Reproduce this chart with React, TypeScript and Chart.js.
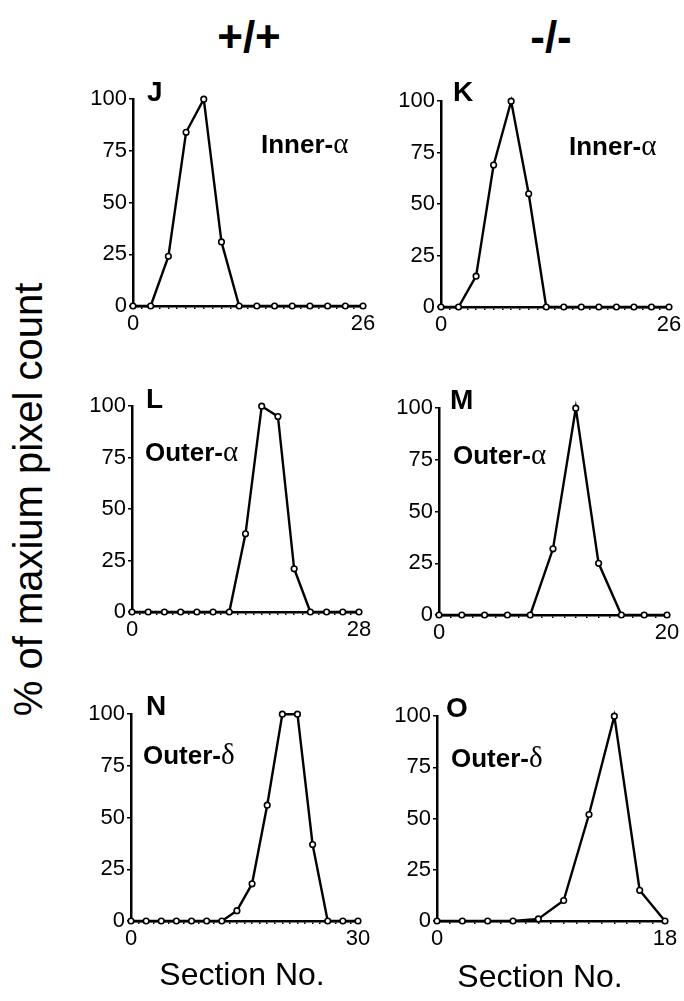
import React, { useEffect, useRef } from "react";
import { Chart, registerables } from "chart.js";

Chart.register(...registerables);

// ---------- data ----------
const sectionsJ = [0, 2, 4, 6, 8, 10, 12, 14, 16, 18, 20, 22, 24, 26];
const valuesJ = [0, 0, 24, 84, 100, 31, 0, 0, 0, 0, 0, 0, 0, 0];

const sectionsK = [0, 2, 4, 6, 8, 10, 12, 14, 16, 18, 20, 22, 24, 26];
const valuesK = [0, 0, 15, 69, 100, 55, 0, 0, 0, 0, 0, 0, 0, 0];

const sectionsL = [0, 2, 4, 6, 8, 10, 12, 14, 16, 18, 20, 22, 24, 26, 28];
const valuesL = [0, 0, 0, 0, 0, 0, 0, 38, 100, 95, 21, 0, 0, 0, 0];

const sectionsM = [0, 2, 4, 6, 8, 10, 12, 14, 16, 18, 20];
const valuesM = [0, 0, 0, 0, 0, 32, 100, 25, 0, 0, 0];

const sectionsN = [0, 2, 4, 6, 8, 10, 12, 14, 16, 18, 20, 22, 24, 26, 28, 30];
const valuesN = [0, 0, 0, 0, 0, 0, 0, 5, 18, 56, 100, 100, 37, 0, 0, 0];

const sectionsO = [0, 2, 4, 6, 8, 10, 12, 14, 16, 18];
const valuesO = [0, 0, 0, 0, 1, 10, 52, 100, 15, 0];

const xMaxima = { J: 26, K: 26, L: 28, M: 20, N: 30, O: 18 };
const yTicks = [0, 25, 50, 75, 100];
const columnTitles = ["+/+", "-/-"];
const yAxisTitle = "% of maxium pixel count";
const xAxisTitle = "Section No.";

// ---------- layout (styles only) ----------
const SANS = '"Liberation Sans", Arial, Helvetica, sans-serif';
const SERIF = '"Liberation Serif", "DejaVu Serif", serif';

type PanelSpec = {
  letter: string;
  name: string;
  greek: string;
  sections: number[];
  values: number[];
  xMax: number;
  x0: number;
  x1: number;
  yTop: number;
  yBot: number;
  letterPos: [number, number];
  namePos: [number, number];
};

const panels: PanelSpec[] = [
  { letter: "J", name: "Inner-", greek: "α", sections: sectionsJ, values: valuesJ, xMax: xMaxima.J,
    x0: 133, x1: 363, yTop: 98, yBot: 306, letterPos: [147, 78], namePos: [261, 129] },
  { letter: "K", name: "Inner-", greek: "α", sections: sectionsK, values: valuesK, xMax: xMaxima.K,
    x0: 441, x1: 669, yTop: 100, yBot: 307, letterPos: [453, 78], namePos: [569, 131] },
  { letter: "L", name: "Outer-", greek: "α", sections: sectionsL, values: valuesL, xMax: xMaxima.L,
    x0: 132, x1: 359, yTop: 405, yBot: 612, letterPos: [146, 385], namePos: [145, 437] },
  { letter: "M", name: "Outer-", greek: "α", sections: sectionsM, values: valuesM, xMax: xMaxima.M,
    x0: 439, x1: 667, yTop: 407, yBot: 615, letterPos: [450, 386], namePos: [453, 440] },
  { letter: "N", name: "Outer-", greek: "δ", sections: sectionsN, values: valuesN, xMax: xMaxima.N,
    x0: 131, x1: 358, yTop: 713, yBot: 921, letterPos: [146, 692], namePos: [143, 740] },
  { letter: "O", name: "Outer-", greek: "δ", sections: sectionsO, values: valuesO, xMax: xMaxima.O,
    x0: 437, x1: 665, yTop: 715, yBot: 921, letterPos: [446, 694], namePos: [451, 743] },
];

const PAD_L = 52;
const PAD_T = 14;
const PAD_R = 26;
const PAD_B = 36;

function PanelChart({ p }: { p: PanelSpec }) {
  const ref = useRef<HTMLCanvasElement>(null);
  const w = p.x1 - p.x0 + PAD_L + PAD_R;
  const h = p.yBot - p.yTop + PAD_T + PAD_B;

  useEffect(() => {
    if (!ref.current) return;
    const tickFont = { family: SANS, size: 22 };
    const chart = new Chart(ref.current, {
      type: "line",
      data: {
        datasets: [
          {
            data: p.sections.map((x, i) => ({ x, y: p.values[i] })),
            borderColor: "#000",
            borderWidth: 2.4,
            pointRadius: 2.8,
            pointBorderWidth: 1.6,
            pointBackgroundColor: "#fff",
            pointBorderColor: "#000",
            tension: 0,
            clip: false,
          } as any,
        ],
      },
      options: {
        responsive: false,
        maintainAspectRatio: false,
        animation: false,
        devicePixelRatio: 1,
        layout: { padding: { left: 0, top: PAD_T, right: PAD_R, bottom: 0 }, autoPadding: false } as any,
        plugins: { legend: { display: false }, tooltip: { enabled: false } },
        scales: {
          x: {
            type: "linear",
            min: 0,
            max: p.xMax,
            afterFit: (s: any) => { s.height = PAD_B; },
            ticks: {
              stepSize: 1,
              autoSkip: false,
              maxRotation: 0,
              padding: 2,
              color: "#000",
              font: tickFont,
              callback: (v: any) => (v === 0 || v === p.xMax ? String(v) : ""),
            },
            grid: { drawOnChartArea: false, tickLength: 3, color: "#000", lineWidth: 1.5 },
            border: { color: "#000", width: 2.5 },
          },
          y: {
            type: "linear",
            min: 0,
            max: 100,
            afterFit: (s: any) => { s.width = PAD_L; },
            afterBuildTicks: (s: any) => { s.ticks = yTicks.map((v) => ({ value: v })); },
            ticks: { padding: 2, color: "#000", font: tickFont },
            grid: { drawOnChartArea: false, tickLength: 4, color: "#000", lineWidth: 1.5 },
            border: { color: "#000", width: 2.5 },
          },
        },
      },
    });
    return () => chart.destroy();
  }, []);

  return (
    <canvas
      ref={ref}
      width={w}
      height={h}
      style={{ position: "absolute", left: p.x0 - PAD_L, top: p.yTop - PAD_T, width: w, height: h }}
    />
  );
}

const abs = (extra: React.CSSProperties): React.CSSProperties => ({
  position: "absolute",
  whiteSpace: "nowrap",
  lineHeight: 1,
  color: "#000",
  margin: 0,
  ...extra,
});

export default function App() {
  return (
    <div
      style={{
        position: "absolute",
        left: 0,
        top: 0,
        width: 684,
        height: 1001,
        overflow: "hidden",
        background: "#fff",
        fontFamily: SANS,
      }}
    >
      {/* column titles */}
      <div style={abs({ left: 149, top: 15, width: 200, textAlign: "center", fontSize: 44, fontWeight: "bold" })}>
        {columnTitles[0]}
      </div>
      <div style={abs({ left: 451, top: 15, width: 200, textAlign: "center", fontSize: 44, fontWeight: "bold" })}>
        {columnTitles[1]}
      </div>

      {/* y axis title */}
      <div
        style={abs({
          left: 27 - 260,
          top: 500 - 20,
          width: 520,
          height: 39,
          textAlign: "center",
          fontSize: 40,
          transform: "rotate(-90deg)",
        })}
      >
        {yAxisTitle}
      </div>

      {panels.map((p) => (
        <PanelChart key={p.letter} p={p} />
      ))}

      {panels.map((p) => (
        <React.Fragment key={"t" + p.letter}>
          <div style={abs({ left: p.letterPos[0], top: p.letterPos[1], fontSize: 28, fontWeight: "bold" })}>
            {p.letter}
          </div>
          <div style={abs({ left: p.namePos[0], top: p.namePos[1], fontSize: 26, fontWeight: "bold" })}>
            {p.name}
            <span style={{ fontFamily: SERIF, fontWeight: "normal", fontSize: 29 }}>{p.greek}</span>
          </div>
        </React.Fragment>
      ))}

      {/* x axis titles */}
      <div style={abs({ left: 242 - 130, top: 958, width: 260, textAlign: "center", fontSize: 32 })}>
        {xAxisTitle}
      </div>
      <div style={abs({ left: 540 - 130, top: 960, width: 260, textAlign: "center", fontSize: 32 })}>
        {xAxisTitle}
      </div>
    </div>
  );
}
